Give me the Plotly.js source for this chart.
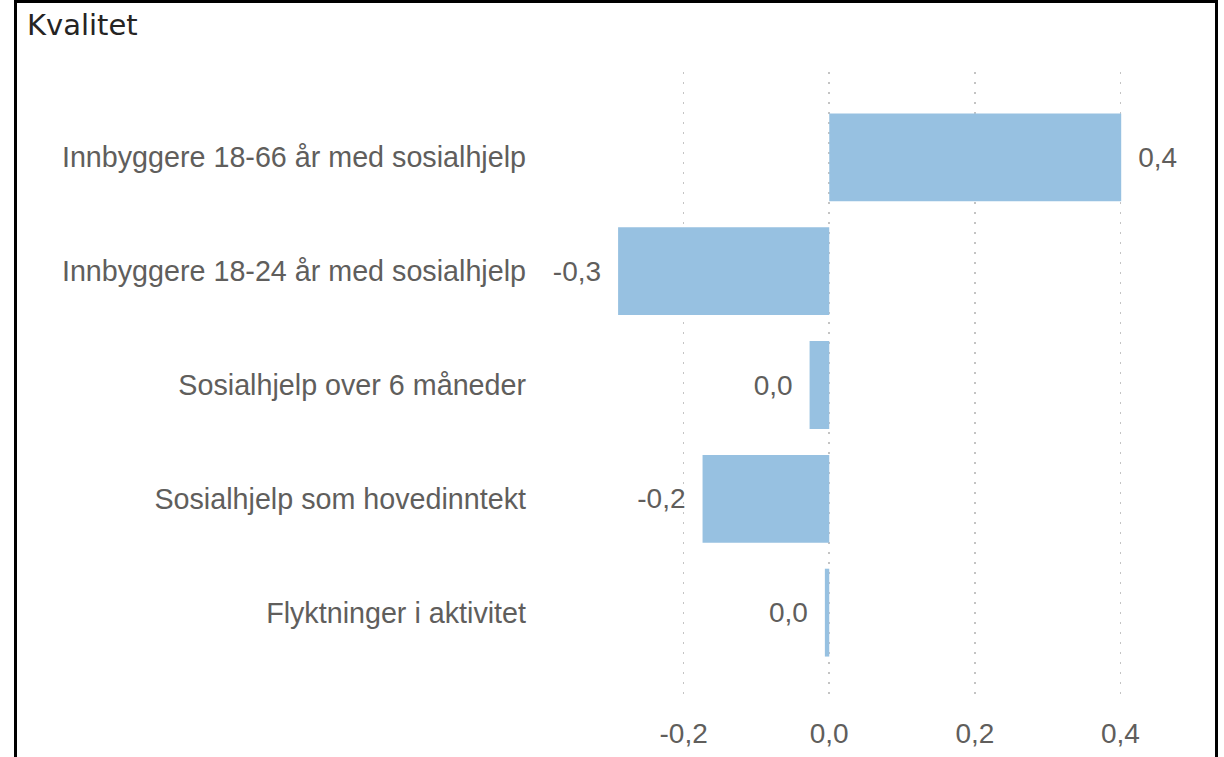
<!DOCTYPE html>
<html>
<head>
<meta charset="utf-8">
<script src="https://cdn.plot.ly/plotly-3.0.1.min.js"></script>
<style>
  html, body { margin: 0; padding: 0; background: #ffffff; }
  #chart { position: absolute; left: 0; top: 0; width: 1224px; height: 757px; }
  #frame { position: absolute; left: 14px; top: 0; width: 1198px; height: 800px;
           border-left: 3px solid #000; border-right: 3px solid #000; border-top: 3px solid #000;
           pointer-events: none; }
</style>
</head>
<body>
<div id="chart"></div>
<div id="frame"></div>
<script>
const categories = [
  "Innbyggere 18-66 år med sosialhjelp",
  "Innbyggere 18-24 år med sosialhjelp",
  "Sosialhjelp over 6 måneder",
  "Sosialhjelp som hovedinntekt",
  "Flyktninger i aktivitet"
];
const values = [0.401, -0.29, -0.027, -0.174, -0.006];
const tickVals = [-0.2, 0, 0.2, 0.4];
const tickLabels = ["-0,2", "0,0", "0,2", "0,4"];
const titleText = "Kvalitet";

const fmt = v => {
  const r = Math.round(v * 10) / 10;
  return (r === 0 ? 0 : r).toFixed(1).replace('.', ',');
};
const labels = values.map(v => v >= 0 ? '\u2002' + fmt(v) : fmt(v) + '\u2002');

const textColor = '#605E5C';
const labelFont = 'Liberation Sans, Arial, sans-serif';
const trace = {
  type: 'bar',
  orientation: 'h',
  x: values,
  y: categories,
  text: labels,
  textposition: 'outside',
  texttemplate: '%{text}',
  cliponaxis: false,
  textfont: { family: labelFont, size: 28, color: textColor },
  marker: { color: '#97C1E1' },
  hoverinfo: 'none'
};

const layout = {
  width: 1224,
  height: 757,
  paper_bgcolor: '#ffffff',
  plot_bgcolor: '#ffffff',
  margin: { l: 538, r: 38, t: 72, b: 59, pad: 0 },
  bargap: 0.228,
  showlegend: false,
  title: {
    text: titleText,
    xref: 'container', yref: 'container',
    x: 27 / 1224, xanchor: 'left',
    y: 1 - 25 / 757, yanchor: 'middle',
    font: { family: 'DejaVu Sans, sans-serif', size: 29, color: '#252423' }
  },
  xaxis: {
    range: [-0.4, 0.49],
    tickmode: 'array',
    tickvals: tickVals,
    ticktext: tickLabels,
    showgrid: true,
    gridcolor: '#C4C4C4',
    gridwidth: 1.5,
    griddash: '2px,8px',
    zeroline: false,
    showline: false,
    ticks: '',
    ticklabelstandoff: 16,
    tickfont: { family: labelFont, size: 28, color: textColor },
    fixedrange: true
  },
  yaxis: {
    type: 'category',
    range: [4.75, -0.75],
    showgrid: false,
    zeroline: false,
    showline: false,
    ticks: '',
    ticklabelstandoff: 11,
    tickfont: { family: labelFont, size: 28.7, color: textColor },
    fixedrange: true
  }
};

Plotly.newPlot('chart', [trace], layout, { displayModeBar: false, staticPlot: true });
</script>
</body>
</html>
